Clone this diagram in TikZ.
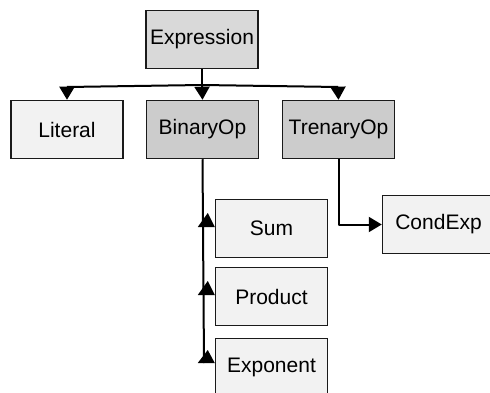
\documentclass[tikz,border=0pt]{standalone}
\usepackage{fontspec}
\setmainfont{Liberation Sans}
\usetikzlibrary{arrows.meta,calc}
\definecolor{lightfill}{HTML}{F2F2F2}
\definecolor{midfill}{HTML}{CCCCCC}
\definecolor{topfill}{HTML}{D9D9D9}
\definecolor{edge}{HTML}{1A1A1A}
\begin{document}
\begin{tikzpicture}[x=1pt,y=-1pt,
  box/.style={draw=edge, line width=1.5pt, minimum width=112pt, minimum height=58pt, inner sep=0pt, font=\fontsize{21}{25}\selectfont},
  conn/.style={line width=2pt, line join=round, draw=black},
  tip/.style={-{Triangle[length=13pt,width=15pt]}},
  head/.style={fill=black}]
\useasboundingbox (0,0) rectangle (490,393);
\clip (0,0) rectangle (490,393);
\node[box, fill=topfill] (expr) at (202,39.5) {Expression};
\node[box, fill=lightfill] (lit) at (67,129.5) {Literal};
\node[box, fill=midfill] (bin) at (202.5,129.5) {BinaryOp};
\node[box, fill=midfill] (tren) at (338.5,129.5) {TrenaryOp};
\node[box, fill=lightfill] (sum) at (271.5,228.5) {Sum};
\node[box, fill=lightfill] (prod) at (271.5,296.5) {Product};
\node[box, fill=lightfill] (expo) at (271.5,367.5) {Exponent};
\node[box, fill=lightfill] (cond) at (438.5,224.5) {CondExp};
% Expression to children
\coordinate (j) at (202,85);
\coordinate (jl) at (67,87);
\coordinate (jr) at (338,87);
\draw[conn] (expr.south) -- (j);
\draw[conn] (jl) -- (j) -- (jr);
\draw[conn,tip] (jl) -- (lit.north);
\draw[conn,tip] (j) -- (bin.north);
\draw[conn,tip] (jr) -- (tren.north);
% BinaryOp to subclasses
\coordinate (bend) at (204,363);
\draw[conn] (bin.south) -- (bend);
\fill[head] ($(sum.west)+(-17,-1.5)$) -- ($(sum.west)+(0,-1.5)$) -- ($(sum.west)+(-7,-15.5)$) -- cycle;
\fill[head] ($(prod.west)+(-17,-1.5)$) -- ($(prod.west)+(0,-1.5)$) -- ($(prod.west)+(-7,-15.5)$) -- cycle;
\fill[head] ($(expo.west)+(-17,-4.5)$) -- ($(expo.west)+(0,-4.5)$) -- ($(expo.west)+(-7,-17.5)$) -- cycle;
% TrenaryOp to CondExp
\draw[conn,tip] (tren.south) |- (cond.west);
\end{tikzpicture}
\end{document}
